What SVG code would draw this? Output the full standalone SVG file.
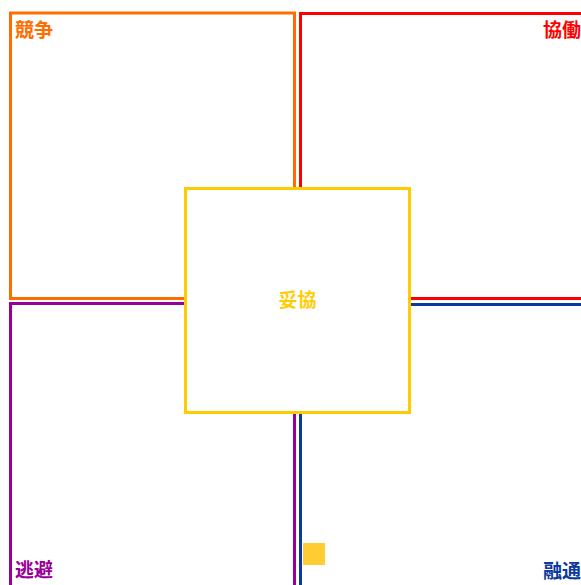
<svg xmlns="http://www.w3.org/2000/svg" width="581" height="585" viewBox="0 0 581 585">
<style>
.box{fill:none;stroke-width:3}
.lbl{font-family:"Noto Sans CJK JP","Noto Sans CJK SC",sans-serif;font-size:19px;font-weight:bold}
</style>
<rect width="581" height="585" fill="#ffffff"/>
<g id="kyoso">
<rect class="box" x="10.5" y="13" width="284" height="285.5" stroke="#FF6D00"/>
<text class="lbl" x="15" y="36.5" fill="#FF6D00">競争</text>
</g>
<g id="kyodo">
<rect class="box" x="300.5" y="13.5" width="284" height="285" stroke="#FF0000"/>
<text class="lbl" x="581" y="36.5" fill="#FF0000" text-anchor="end">協働</text>
</g>
<g id="tohi">
<rect class="box" x="10.5" y="303.5" width="284" height="290" stroke="#990099"/>
<text class="lbl" x="15" y="577" fill="#990099">逃避</text>
</g>
<g id="yuzu">
<rect class="box" x="300.5" y="304.5" width="284" height="290" stroke="#0D3A9E"/>
<text class="lbl" x="581" y="578" fill="#0D3A9E" text-anchor="end">融通</text>
</g>
<g id="dakyo">
<rect x="185.5" y="188.5" width="224" height="224" fill="#ffffff" stroke="#FFCC00" stroke-width="3"/>
<text class="lbl" x="297.5" y="307" fill="#FFCC00" text-anchor="middle">妥協</text>
</g>
<g id="marker">
<rect x="303" y="543" width="22" height="22" fill="#FFCC33"/>
</g>
<g id="connectors"></g>
</svg>
